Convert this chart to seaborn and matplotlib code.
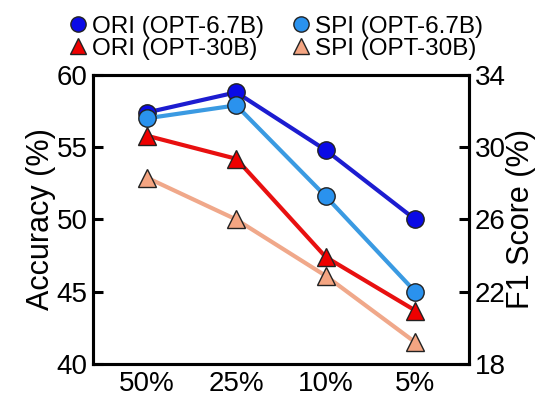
import matplotlib
matplotlib.use("Agg")
import matplotlib.pyplot as plt
import seaborn as sns
import pandas as pd
from matplotlib.lines import Line2D

categories = ["50%", "25%", "10%", "5%"]
ori_67b = [57.4, 58.8, 54.8, 50.0]
spi_67b = [57.0, 57.9, 51.6, 45.0]
ori_30b = [55.8, 54.2, 47.4, 43.7]
spi_30b = [52.9, 50.0, 46.1, 41.5]
left_ticks = [40, 45, 50, 55, 60]
right_ticks = [18, 22, 26, 30, 34]

series = [
    ("ORI (OPT-6.7B)", ori_67b, "o", "#0a0ae6", "#1c1cd0"),
    ("SPI (OPT-6.7B)", spi_67b, "o", "#2a92ee", "#3a9ae2"),
    ("ORI (OPT-30B)", ori_30b, "^", "#ee0000", "#e81010"),
    ("SPI (OPT-30B)", spi_30b, "^", "#f4a582", "#f0a88a"),
]

sns.set_style("white")
plt.rcParams.update({
    "font.family": ["Liberation Sans", "DejaVu Sans"],
    "text.color": "black",
    "axes.labelcolor": "black",
    "axes.axisbelow": False,
    "xtick.color": "black",
    "ytick.color": "black",
    "ytick.left": True,
    "ytick.right": True,
    "ytick.direction": "in",
    "ytick.major.size": 7,
    "ytick.major.width": 2.2,
    "xtick.bottom": False,
})

fig = plt.figure(figsize=(5.49, 3.98), dpi=100)
ax = fig.add_axes([0.1694, 0.0854, 0.6849, 0.7262])

handles = []
for name, vals, mk, fc, lc in series:
    df = pd.DataFrame({"x": categories, "y": vals})
    ms = 12.5 if mk == "o" else 13.5
    sns.lineplot(data=df, x="x", y="y", ax=ax, color=lc, linewidth=3.0,
                 marker=mk, markersize=ms,
                 markerfacecolor=fc, markeredgecolor="#222222",
                 markeredgewidth=1.0, sort=False)
    handles.append(Line2D([], [], linestyle="none", marker=mk, markersize=11 if mk == "o" else 12,
                          markerfacecolor=fc, markeredgecolor="#222222",
                          markeredgewidth=1.0, label=name))

ax.set_xlim(-0.6, 3.6)
ax.set_ylim(40, 60)
ax.set_yticks(left_ticks)
ax.set_xlabel("")
ax.set_ylabel("Accuracy (%)", fontsize=22, labelpad=0)

ax2 = ax.twinx()
ax2.set_ylim(18, 34)
ax2.set_yticks(right_ticks)
ax2.set_ylabel("F1 Score (%)", fontsize=22, labelpad=0)

ax.tick_params(axis="y", which="major", left=True, right=False, direction="in",
               length=7, width=2.2, labelsize=20, pad=4, color="black")
ax.tick_params(axis="x", bottom=False, length=0, labelsize=20, pad=5)
ax2.tick_params(axis="y", which="major", right=True, left=False, direction="in",
                length=7, width=2.2, labelsize=20, pad=4, color="black")

for a in (ax, ax2):
    a.set_axisbelow(False)
    for s in a.spines.values():
        s.set_linewidth(2.2)
        s.set_color("black")
        s.set_visible(True)
for t in ax.yaxis.get_major_ticks():
    t.tick1line.set_visible(True)
    t.tick1line.set_zorder(5)
for t in ax2.yaxis.get_major_ticks():
    t.tick2line.set_visible(True)
    t.tick2line.set_zorder(5)

order = [handles[0], handles[2], handles[1], handles[3]]
fig.legend(handles=order, ncol=2, loc="center", bbox_to_anchor=(0.5, 0.905),
           frameon=False, fontsize=17.5, handletextpad=0.1, columnspacing=1.0,
           labelspacing=0.0, handlelength=1.0, borderpad=0.2)

fig.savefig("out.png", dpi=100)
